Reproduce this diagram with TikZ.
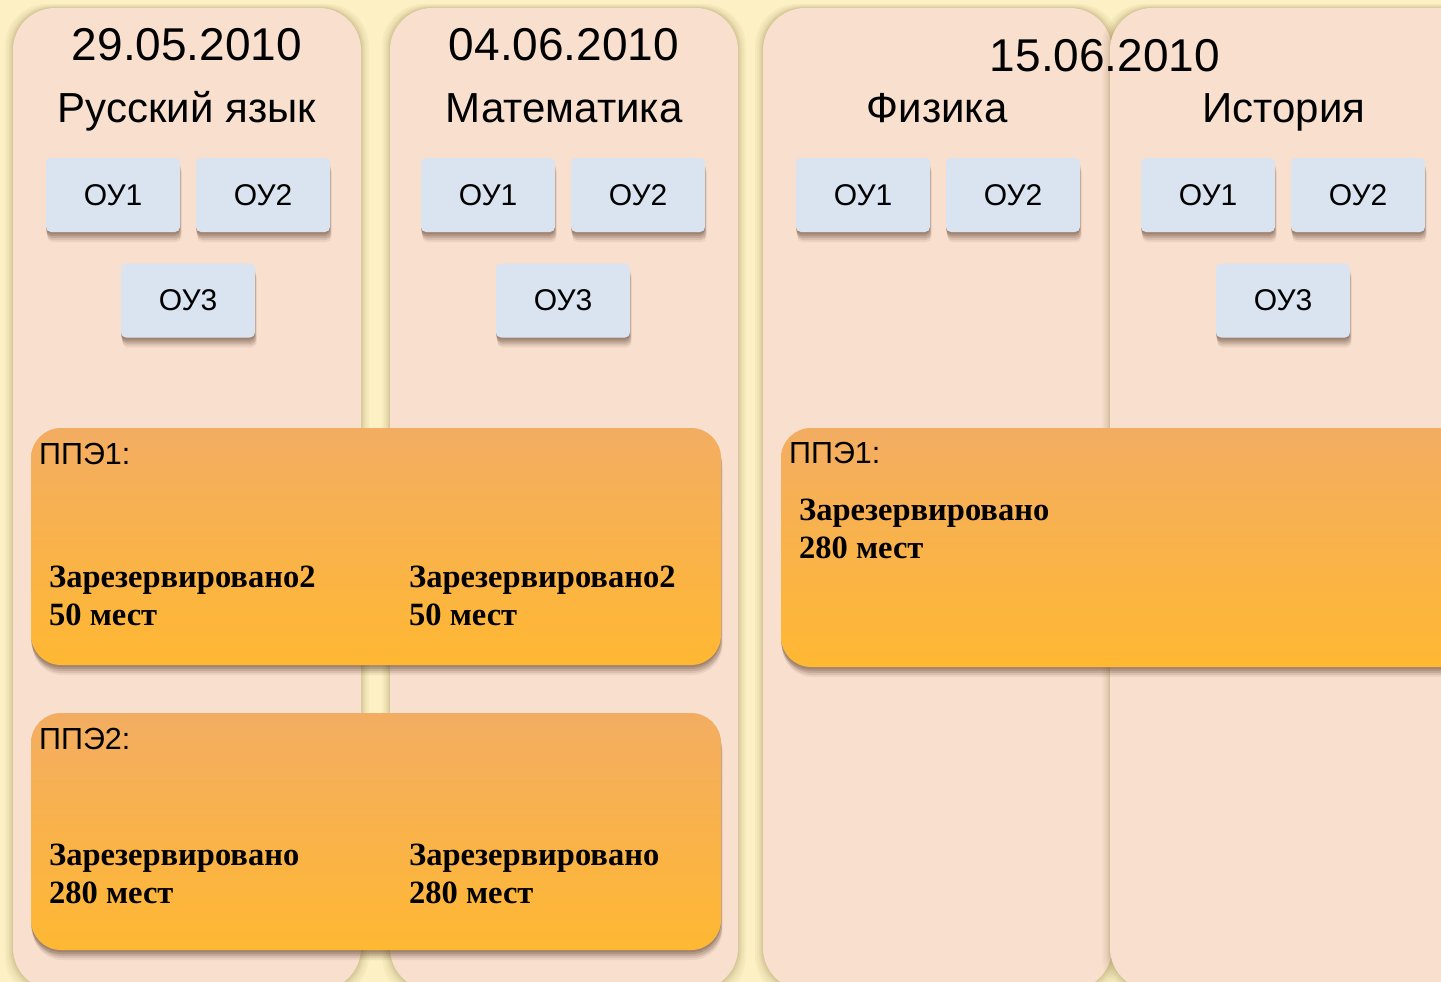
\documentclass[tikz,border=0pt]{standalone}
\usepackage{fontspec}
\setmainfont{Liberation Sans}
\newfontfamily\tnr{Liberation Serif}
\usetikzlibrary{shadows}
\definecolor{bg}{RGB}{252,240,196}
\definecolor{colfill}{RGB}{248,223,206}
\definecolor{oubox}{RGB}{218,227,240}
\definecolor{orTop}{RGB}{243,173,98}
\definecolor{orBot}{RGB}{255,184,50}
\definecolor{shd}{RGB}{95,65,45}
\definecolor{colshd}{RGB}{150,130,70}
\tikzset{
  softshadow/.style={
    drop shadow={shadow xshift=1.5pt, shadow yshift=-10pt, opacity=0.08, fill=shd},
    drop shadow={shadow xshift=1pt, shadow yshift=-8pt, opacity=0.12, fill=shd},
    drop shadow={shadow xshift=1pt, shadow yshift=-6pt, opacity=0.16, fill=shd},
    drop shadow={shadow xshift=0pt, shadow yshift=-4pt, opacity=0.2, fill=shd},
    drop shadow={shadow xshift=0pt, shadow yshift=-2pt, opacity=0.2, fill=shd}},
  ou/.style={fill=oubox, rounded corners=5pt, minimum width=134pt, minimum height=74pt,
    inner sep=0pt, font=\fontsize{30}{35}\selectfont, softshadow},
  ppe/.style={rounded corners=30pt, top color=orTop, bottom color=orBot, inner sep=0pt, softshadow},
  datetxt/.style={anchor=base, inner sep=0pt, font=\fontsize{46}{52}\selectfont},
  subjtxt/.style={anchor=base, inner sep=0pt, font=\fontsize{42}{48}\selectfont},
  ppetxt/.style={anchor=base west, inner sep=0pt, font=\fontsize{30.5}{36}\selectfont},
  restxt/.style={anchor=base west, inner sep=0pt, font=\tnr\bfseries\fontsize{32.5}{38}\selectfont},
  colbox/.style={fill=colfill, rounded corners=42pt},
}
\newcommand{\daycolumn}[2]{%
  \foreach \d/\o in {8/0.05,6/0.06,4/0.08,2.5/0.10,1/0.12}
    \fill[colshd, opacity=\o, rounded corners=42pt] ({#1-\d},{8-\d/2}) rectangle ({#2+\d},{990+\d});
  \fill[colbox] (#1,8) rectangle (#2,990);
}
\begin{document}
\begin{tikzpicture}[x=1pt, y=-1pt]
\useasboundingbox (0,0) rectangle (1441,982);
\clip (0,0) rectangle (1441,982);
\fill[bg] (-5,-5) rectangle (1446,987);
% columns
\daycolumn{13}{361}
\daycolumn{390}{738}
\daycolumn{763}{1112}
\daycolumn{1110}{1500}
% headers
\node[datetxt] (d1) at (187,61) {29.05.2010};
\node[subjtxt] (s1) at (187,122) {Русский язык};
\node[datetxt] (d2) at (564,61) {04.06.2010};
\node[subjtxt] (s2) at (564,122) {Математика};
\node[datetxt] (d3) at (1105,72) {15.06.2010};
\node[subjtxt] (s3) at (937,122) {Физика};
\node[subjtxt] (s4) at (1284,122) {История};
% OU boxes
\node[ou] (a1) at (113,195) {ОУ1};
\node[ou] (a2) at (263,195) {ОУ2};
\node[ou] (a3) at (188,300.5) {ОУ3};
\node[ou] (b1) at (488,195) {ОУ1};
\node[ou] (b2) at (638,195) {ОУ2};
\node[ou] (b3) at (563,300.5) {ОУ3};
\node[ou] (c1) at (863,195) {ОУ1};
\node[ou] (c2) at (1013,195) {ОУ2};
\node[ou] (e1) at (1208,195) {ОУ1};
\node[ou] (e2) at (1358,195) {ОУ2};
\node[ou] (e3) at (1283,300.5) {ОУ3};
% PPE boxes
\node[ppe, minimum width=690pt, minimum height=237pt] (p1) at (376,546.5) {};
\node[ppe, minimum width=690pt, minimum height=237pt] (p2) at (376,831.5) {};
\node[ppe, minimum width=700pt, minimum height=239pt] (p3) at (1131,547.5) {};
% PPE texts
\node[ppetxt] (p1t) at (39,464) {ППЭ1:};
\node[restxt] (p1a1) at (49,587) {Зарезервировано2};
\node[restxt] (p1a2) at (49,625) {50 мест};
\node[restxt] (p1b1) at (409,587) {Зарезервировано2};
\node[restxt] (p1b2) at (409,625) {50 мест};
\node[ppetxt] (p2t) at (39,749) {ППЭ2:};
\node[restxt] (p2a1) at (49,865) {Зарезервировано};
\node[restxt] (p2a2) at (49,903) {280 мест};
\node[restxt] (p2b1) at (409,865) {Зарезервировано};
\node[restxt] (p2b2) at (409,903) {280 мест};
\node[ppetxt] (p3t) at (789,463) {ППЭ1:};
\node[restxt] (p3a1) at (799,520) {Зарезервировано};
\node[restxt] (p3a2) at (799,558) {280 мест};
\end{tikzpicture}
\end{document}
